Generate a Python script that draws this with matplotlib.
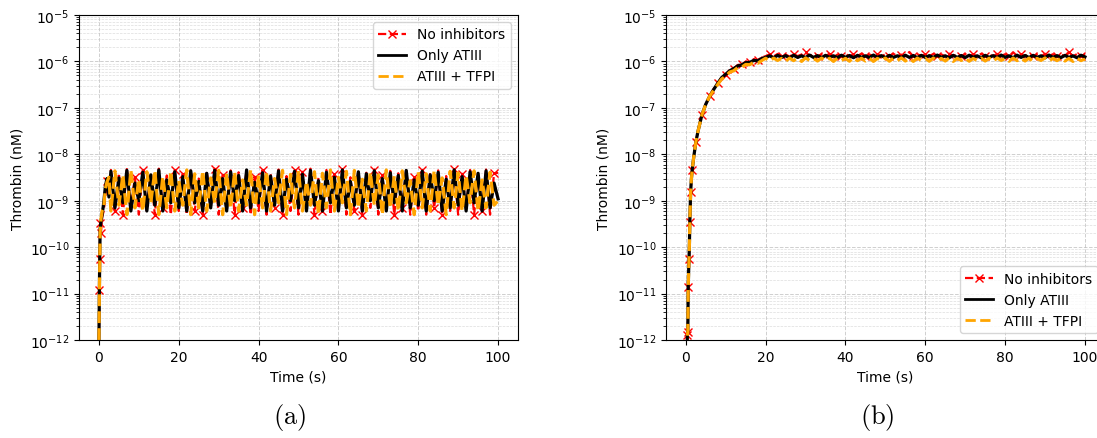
import numpy as np
from matplotlib import pyplot as plt

# panel (a): noisy thrombin, 1 s output steps after the initial rise
t_a = [0, 0.1, 0.2, 0.3, 0.5, 0.8, 1.2, 1.6, 2.0, 2.5] + list(range(3, 101))

red_a_rise = [1e-12, 1.2e-11, 5.5e-11, 3.3e-10, 2.0e-10, 4.5e-10, 6.0e-10, 1.2e-9, 2.6e-9, 1.5e-9]
black_a_rise = [1e-12, 1.0e-11, 6.0e-11, 2.5e-10, 3.5e-10, 5.0e-10, 9.0e-10, 2.0e-9, 3.0e-9, 1.2e-9]
orange_a_rise = [1e-12, 8.0e-12, 4.0e-11, 2.0e-10, 4.0e-10, 6.0e-10, 7.0e-10, 1.8e-9, 2.5e-9, 3.2e-9]

# values in units of 1e-9 nM, t = 3 ... 100
red_a_osc = [4.6, 0.6, 3.9, 0.5, 4.8, 0.7, 3.2, 0.5, 4.5, 0.6, 4.0, 0.5, 4.9, 0.7, 3.5, 0.5, 4.6, 0.6, 3.8, 0.5,
             4.7, 0.6, 3.0, 0.5, 4.4, 0.7, 4.9, 0.5, 3.6, 0.6, 4.5, 0.5, 4.1, 0.7, 4.8, 0.5, 3.3, 0.6, 4.6, 0.5,
             3.9, 0.7, 4.7, 0.5, 3.4, 0.6, 4.5, 0.5, 4.2, 0.7, 4.9, 0.5, 3.1, 0.6, 4.6, 0.5, 3.7, 0.7, 4.8, 0.5,
             3.2, 0.6, 4.5, 0.5, 4.0, 0.7, 4.7, 0.5, 3.5, 0.6, 4.4, 0.5, 3.9, 0.7, 4.8, 0.5, 3.3, 0.6, 4.6, 0.5,
             4.1, 0.7, 4.5, 0.5, 3.4, 0.6, 4.9, 0.5, 3.8, 0.7, 4.6, 0.5, 4.2, 0.6, 4.7, 0.5, 3.9, 4.0]
black_a_osc = [4.3, 0.7, 3.1, 0.9, 4.5, 0.6, 2.4, 1.0, 4.1, 0.6, 3.6, 0.8, 4.6, 0.6, 2.8, 0.9, 4.2, 0.7, 3.3, 0.6,
               4.4, 0.9, 2.6, 0.6, 3.9, 0.7, 4.5, 0.8, 3.0, 0.6, 4.2, 1.0, 3.5, 0.6, 4.6, 0.7, 2.5, 0.9, 4.0, 0.6,
               3.4, 0.8, 4.4, 0.6, 2.9, 1.0, 4.3, 0.7, 3.7, 0.6, 4.5, 0.8, 2.7, 0.6, 4.1, 0.9, 3.2, 0.6, 4.6, 0.7,
               2.6, 0.8, 4.2, 0.6, 3.8, 1.0, 4.4, 0.7, 3.0, 0.6, 4.0, 0.9, 3.5, 0.6, 4.5, 0.7, 2.8, 0.8, 4.3, 0.6,
               3.6, 1.0, 4.1, 0.6, 2.9, 0.7, 4.6, 0.8, 3.3, 0.6, 4.2, 0.9, 3.9, 0.6, 4.4, 0.7, 2.4, 1.1]
orange_a_osc = [0.6, 4.4, 0.8, 3.6, 0.5, 4.6, 0.7, 2.9, 0.6, 4.2, 0.9, 4.5, 0.5, 3.3, 0.7, 4.3, 0.6, 2.7, 0.8, 4.6,
                0.5, 3.8, 0.7, 4.4, 0.6, 3.1, 0.9, 4.5, 0.5, 3.9, 0.7, 4.2, 0.6, 2.8, 0.8, 4.6, 0.5, 3.5, 0.7, 4.3,
                0.6, 3.0, 0.9, 4.5, 0.5, 3.7, 0.7, 4.4, 0.6, 2.6, 0.8, 4.2, 0.5, 3.9, 0.7, 4.6, 0.6, 3.2, 0.9, 4.3,
                0.5, 4.5, 0.7, 2.9, 0.6, 4.1, 0.8, 3.6, 0.5, 4.6, 0.7, 3.4, 0.6, 4.4, 0.9, 2.7, 0.5, 4.2, 0.7, 3.8,
                0.6, 4.5, 0.8, 3.1, 0.5, 4.3, 0.7, 4.0, 0.6, 3.5, 0.9, 4.4, 0.6, 2.8, 0.7, 4.1, 0.8, 1.0]

# panel (b): smooth rise to a plateau
t_b = [0, 0.2, 0.4, 0.5, 0.6, 0.7, 0.8, 0.9, 1.0, 1.2, 1.4, 1.6, 2.0, 2.5, 3.0, 4.0,
       5, 6, 7, 8, 9, 10, 11, 12, 13, 14, 15, 16, 17, 18, 19] + list(range(20, 101))

rise_b = [1e-13, 4e-13, 1.3e-12, 1.5e-12, 1.4e-11, 3e-11, 5.5e-11, 1.2e-10, 3.4e-10, 1.55e-9, 3e-9, 4.7e-9,
          9e-9, 1.8e-8, 3e-8, 6.9e-8, 1.2e-7, 1.8e-7]
red_b_late = [2.6e-7, 3.4e-7, 4.6e-7, 5.2e-7, 6.6e-7, 7.0e-7, 8.4e-7, 8.6e-7, 9.9e-7, 9.6e-7, 1.12e-6, 1.06e-6, 1.22e-6]
black_b_late = [2.5e-7, 3.4e-7, 4.5e-7, 5.3e-7, 6.3e-7, 7.0e-7, 8.0e-7, 8.4e-7, 9.4e-7, 9.5e-7, 1.05e-6, 1.03e-6, 1.15e-6]
orange_b_late = [2.4e-7, 3.2e-7, 4.2e-7, 4.8e-7, 5.9e-7, 6.3e-7, 7.4e-7, 7.5e-7, 8.6e-7, 8.5e-7, 9.6e-7, 9.1e-7, 1.04e-6]

# plateau in units of 1e-6 nM, t = 20 ... 100
red_b_plat = [1.30, 1.42, 1.28, 1.45, 1.30, 1.40, 1.27, 1.44, 1.30, 1.41, 1.58, 1.31, 1.44, 1.29, 1.42, 1.30, 1.46,
              1.28, 1.40, 1.31, 1.45, 1.28, 1.43, 1.30, 1.47, 1.29, 1.41, 1.30, 1.44, 1.28, 1.42, 1.31, 1.46, 1.29,
              1.40, 1.30, 1.60, 1.28, 1.43, 1.31, 1.41, 1.29, 1.45, 1.30, 1.42, 1.28, 1.47, 1.31, 1.40, 1.29, 1.44,
              1.30, 1.42, 1.28, 1.46, 1.31, 1.41, 1.29, 1.45, 1.30, 1.43, 1.28, 1.58, 1.31, 1.42, 1.29, 1.44, 1.30,
              1.41, 1.28, 1.46, 1.31, 1.43, 1.29, 1.40, 1.30, 1.62, 1.28, 1.44, 1.31, 1.42]
black_b_plat = [1.22, 1.32, 1.20, 1.35, 1.22, 1.33, 1.19, 1.36, 1.22, 1.32, 1.21, 1.37, 1.22, 1.33, 1.20, 1.35, 1.22,
                1.32, 1.21, 1.36, 1.22, 1.34, 1.20, 1.35, 1.22, 1.32, 1.21, 1.37, 1.22, 1.33, 1.20, 1.35, 1.22, 1.32,
                1.21, 1.36, 1.22, 1.34, 1.20, 1.35, 1.22, 1.33, 1.21, 1.37, 1.22, 1.32, 1.20, 1.35, 1.22, 1.34, 1.21,
                1.36, 1.22, 1.32, 1.20, 1.35, 1.22, 1.33, 1.21, 1.37, 1.22, 1.32, 1.20, 1.36, 1.22, 1.34, 1.21, 1.35,
                1.22, 1.32, 1.20, 1.37, 1.22, 1.33, 1.21, 1.35, 1.22, 1.32, 1.20, 1.36, 1.25]
orange_b_plat = [1.17, 1.02, 1.18, 1.05, 1.16, 1.01, 1.18, 1.04, 1.17, 1.00, 1.19, 1.05, 1.16, 1.02, 1.18, 1.04, 1.17,
                 1.00, 1.18, 1.05, 1.16, 1.01, 1.19, 1.04, 1.17, 1.02, 1.18, 1.00, 1.16, 1.05, 1.18, 1.01, 1.17, 1.04,
                 1.19, 1.02, 1.16, 1.00, 1.18, 1.05, 1.17, 1.01, 1.18, 1.04, 1.16, 1.02, 1.19, 1.00, 1.17, 1.05, 1.18,
                 1.01, 1.16, 1.04, 1.18, 1.02, 1.17, 1.00, 1.19, 1.05, 1.16, 1.01, 1.18, 1.04, 1.17, 1.02, 1.18, 1.00,
                 1.16, 1.05, 1.19, 1.01, 1.17, 1.04, 1.18, 1.02, 1.16, 1.00, 1.18, 1.04, 1.12]

labels = ["No inhibitors", "Only ATIII", "ATIII + TFPI"]

red_a = np.array(red_a_rise + [v * 1e-9 for v in red_a_osc])
black_a = np.array(black_a_rise + [v * 1e-9 for v in black_a_osc])
orange_a = np.array(orange_a_rise + [v * 1e-9 for v in orange_a_osc])
red_b = np.array(rise_b + red_b_late + [v * 1e-6 for v in red_b_plat])
black_b = np.array(rise_b + black_b_late + [v * 1e-6 for v in black_b_plat])
orange_b = np.array(rise_b + orange_b_late + [v * 1e-6 for v in orange_b_plat])

# where the red crosses sit (solver output is thinned)
marks_a = [1, 2, 3, 4]
i = 8
while i < len(t_a):
    marks_a.append(i)
    i += 3 if len(marks_a) % 2 else 2
marks_b = [2, 3, 4, 6, 8, 9, 11, 13, 15, 17, 19, 21, 23, 25, 27, 29]
i = 32
while i < len(t_b):
    marks_b.append(i)
    i += 3

plt.rcParams["mathtext.fontset"] = "cm"
fig = plt.figure(figsize=(10.97, 4.39), dpi=100)
ax_a = fig.add_axes([0.072, 0.2232, 0.4002, 0.7404])
ax_b = fig.add_axes([0.607, 0.2232, 0.4002, 0.7404])


def draw(ax, t, red, black, orange, loc, mev):
    ax.plot(t, red, "--", color="red", marker="x", markersize=6, markevery=mev, lw=1.6, label=labels[0])
    ax.plot(t, black, "-", color="black", lw=2.3, label=labels[1])
    ax.plot(t, orange, "--", color="orange", lw=2.3, label=labels[2])
    ax.set_yscale("log")
    ax.set_ylim(1e-12, 1e-5)
    ax.set_xlim(-5, 105)
    ax.set_xticks([0, 20, 40, 60, 80, 100])
    ax.grid(True, which="major", linestyle="--", color="#b0b0b0", lw=0.7, alpha=0.6)
    ax.grid(True, which="minor", linestyle="--", color="#c8c8c8", lw=0.5, alpha=0.6)
    ax.set_xlabel("Time (s)")
    ax.set_ylabel("Thrombin (nM)")
    leg = ax.legend(loc=loc, fontsize=10)
    for h in leg.legend_handles[1:]:
        h.set_linewidth(2.0)


draw(ax_a, t_a, red_a, black_a, orange_a, "upper right", marks_a)
draw(ax_b, t_b, red_b, black_b, orange_b, "lower right", marks_b)

fig.text(0.264, 0.035, r"$(\mathrm{a})$", fontsize=19, ha="center")
fig.text(0.8, 0.035, r"$(\mathrm{b})$", fontsize=19, ha="center")

plt.savefig("out.png", dpi=100)
